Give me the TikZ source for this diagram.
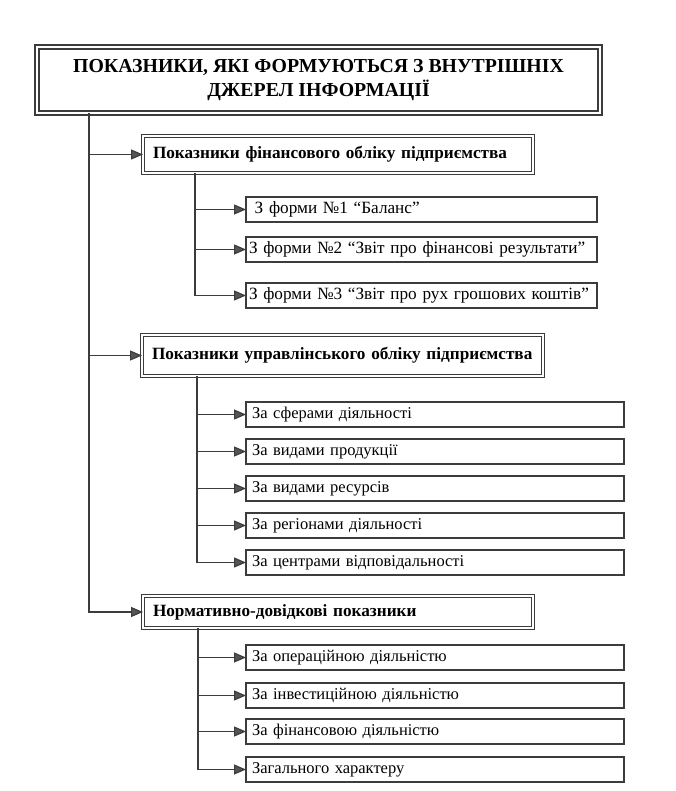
\documentclass[tikz,border=0pt]{standalone}
\usepackage{fontspec}
\setmainfont{Liberation Serif}
\usetikzlibrary{arrows.meta}

\definecolor{linegray}{HTML}{3C3C3C}
\definecolor{tipgray}{HTML}{555555}

\tikzset{
    headbox/.style={draw=linegray, line width=1.5pt, double=white, double distance=1.8pt,
        anchor=north west, inner sep=0pt, outer sep=0pt, align=left},
    subbox/.style={draw=linegray, line width=1.3pt, anchor=north west, inner xsep=6pt,
        inner ysep=0pt, outer sep=0pt, minimum height=25pt, text width=#1,
        align=left, font=\fontsize{16.5}{18}\selectfont},
    formbox/.style={subbox=345pt, inner xsep=3pt, font=\fontsize{17.2}{19}\selectfont}
}
\tikzset{
    conn/.style={draw=linegray, line width=1.2pt, -{Triangle[length=12pt,width=10pt,fill=tipgray]}}
}

\begin{document}
\begin{tikzpicture}[x=1pt, y=-1pt]
    \useasboundingbox (0,0) rectangle (676,791);

    % title
    \node[headbox, minimum width=563pt, minimum height=66pt, align=center, line width=1.9pt,
        font=\fontsize{19.8}{24}\selectfont\bfseries] (title) at (37,47)
        {ПОКАЗНИКИ, ЯКІ ФОРМУЮТЬСЯ З ВНУТРІШНІХ\\ДЖЕРЕЛ ІНФОРМАЦІЇ};

    % level 1
    \node[headbox, minimum width=390pt, minimum height=37pt, text width=370pt,
        font=\fontsize{17.2}{19}\selectfont\bfseries] (fin) at (143,136)
        {Показники фінансового обліку підприємства};
    \node[headbox, minimum width=401pt, minimum height=41pt, text width=381pt,
        font=\fontsize{17.2}{19}\selectfont\bfseries] (upr) at (142,335)
        {Показники управлінського обліку підприємства};
    \node[headbox, minimum width=390pt, minimum height=32pt, text width=370pt,
        font=\fontsize{17.2}{19}\selectfont\bfseries] (norm) at (143,596)
        {Нормативно-довідкові показники};

    % financial accounting
    \node[formbox] (fin1) at (246,197) {\ З форми №1 “Баланс”};
    \node[formbox] (fin2) at (246,237) {З форми №2 “Звіт про фінансові результати”};
    \node[formbox] (fin3) at (246,283) {З форми №3 “Звіт про рух грошових коштів”};

    % management accounting
    \node[subbox=366pt] (upr1) at (246,402) {За сферами діяльності};
    \node[subbox=366pt] (upr2) at (246,439) {За видами продукції};
    \node[subbox=366pt] (upr3) at (246,476) {За видами ресурсів};
    \node[subbox=366pt] (upr4) at (246,513) {За регіонами діяльності};
    \node[subbox=366pt] (upr5) at (246,550) {За центрами відповідальності};

    % normative
    \node[subbox=366pt] (norm1) at (246,645) {За операційною діяльністю};
    \node[subbox=366pt] (norm2) at (246,683) {За інвестиційною діяльністю};
    \node[subbox=366pt] (norm3) at (246,719) {За фінансовою діяльністю};
    \node[subbox=366pt] (norm4) at (246,757) {Загального характеру};

    \draw[conn] ([xshift=52pt]title.south west) |- (fin.west);
    \draw[conn] ([xshift=52pt]title.south west) |- (upr.west);
    \draw[conn] ([xshift=52pt]title.south west) |- (norm.west);

    \foreach \i in {1,2,3}
        \draw[conn] ([xshift=52pt]fin.south west) |- (fin\i.west);
    \foreach \i in {1,...,5}
        \draw[conn] ([xshift=55pt]upr.south west) |- (upr\i.west);
    \foreach \i in {1,...,4}
        \draw[conn] ([xshift=55pt]norm.south west) |- (norm\i.west);
\end{tikzpicture}
\end{document}
